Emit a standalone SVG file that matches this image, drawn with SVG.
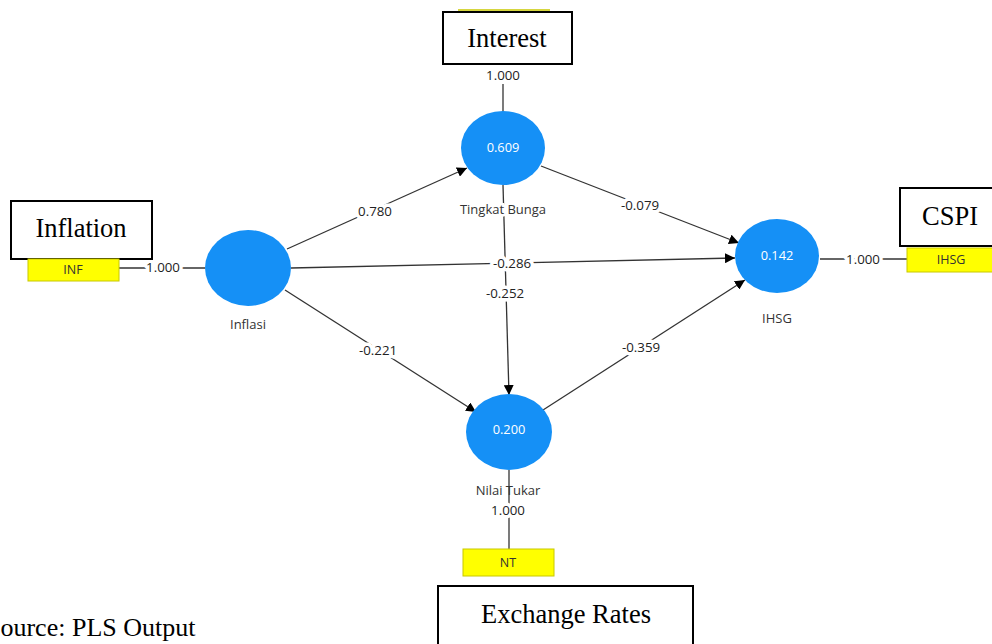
<svg xmlns="http://www.w3.org/2000/svg" width="992" height="644" viewBox="0 0 992 644">
<style>
.box{fill:#fff;stroke:#000;stroke-width:2}
.cap{font-family:"Liberation Serif",serif;font-size:26.5px;fill:#000;text-anchor:middle}
.lv{fill:#1590f6}
.val{font-family:"Open Sans","Noto Sans",sans-serif;font-size:12.8px;fill:#fff;text-anchor:middle}
.lbl{font-family:"Open Sans","Noto Sans",sans-serif;font-size:13px;fill:#333;text-anchor:middle}
.coef{font-family:"Open Sans","Noto Sans",sans-serif;font-size:13.3px;fill:#222;text-anchor:middle;stroke:#fff;stroke-width:7px;paint-order:stroke;stroke-linejoin:round}
.ind{fill:#ffff00;stroke:#c8c800;stroke-width:1}
.indt{font-family:"Open Sans","Noto Sans",sans-serif;font-size:12.5px;fill:#333;text-anchor:middle}
.ln{stroke:#333;stroke-width:1.3;fill:none}
</style>
<defs>
<marker id="ah" viewBox="0 0 10 10" refX="10" refY="5" markerWidth="10" markerHeight="10" markerUnits="userSpaceOnUse" orient="auto">
<path d="M0,0 L10,5 L0,10 z" fill="#000"/>
</marker>
</defs>
<rect width="992" height="644" fill="#fff"/>
<line x1="458" y1="10" x2="550" y2="10" stroke="#c8c800" stroke-width="1.5"/>
<g id="connectors">
<line class="ln" x1="503" y1="84" x2="503" y2="112"/>
<line class="ln" x1="119" y1="268" x2="205" y2="268"/>
<line class="ln" x1="820" y1="259" x2="907" y2="259"/>
<line class="ln" x1="509" y1="470" x2="509" y2="549"/>
<line class="ln" x1="287" y1="249" x2="467" y2="168" marker-end="url(#ah)"/>
<line class="ln" x1="291" y1="268" x2="735" y2="258" marker-end="url(#ah)"/>
<line class="ln" x1="285" y1="290" x2="476" y2="412" marker-end="url(#ah)"/>
<line class="ln" x1="541" y1="166" x2="739" y2="243" marker-end="url(#ah)"/>
<line class="ln" x1="503" y1="185" x2="509" y2="395" marker-end="url(#ah)"/>
<line class="ln" x1="543" y1="410" x2="745" y2="280" marker-end="url(#ah)"/>
<text class="coef" x="503" y="80">1.000</text>
<text class="coef" x="163" y="272">1.000</text>
<text class="coef" x="863" y="264">1.000</text>
<text class="coef" x="375" y="216">0.780</text>
<text class="coef" x="512" y="268">-0.286</text>
<text class="coef" x="378" y="355">-0.221</text>
<text class="coef" x="640" y="210">-0.079</text>
<text class="coef" x="505" y="298">-0.252</text>
<text class="coef" x="641" y="352">-0.359</text>
</g>
<g id="interest">
<rect class="box" x="443" y="12" width="129" height="52"/>
<text class="cap" x="507" y="47">Interest</text>
</g>
<g id="tingkat-bunga">
<ellipse class="lv" cx="503" cy="148" rx="42" ry="37"/>
<text class="val" x="503" y="152">0.609</text>
<text class="lbl" x="503" y="214" style="stroke:#fff;stroke-width:5px;paint-order:stroke">Tingkat Bunga</text>
</g>
<g id="inflation">
<rect class="box" x="11" y="201" width="141" height="58"/>
<text class="cap" x="81" y="237">Inflation</text>
</g>
<g id="inf">
<rect class="ind" x="28" y="259" width="91" height="22"/>
<text class="indt" x="73" y="274">INF</text>
</g>
<g id="inflasi">
<ellipse class="lv" cx="248" cy="268" rx="43" ry="38"/>
<text class="lbl" x="248" y="329">Inflasi</text>
</g>
<g id="ihsg">
<ellipse class="lv" cx="777" cy="256" rx="42" ry="37"/>
<text class="val" x="777" y="260">0.142</text>
<text class="lbl" x="777" y="323">IHSG</text>
</g>
<g id="ihsg-ind">
<rect class="ind" x="907" y="248" width="90" height="24"/>
<text class="indt" x="951" y="264">IHSG</text>
</g>
<g id="cspi">
<rect class="box" x="900" y="188" width="96" height="58"/>
<text class="cap" x="950" y="225">CSPI</text>
</g>
<g id="nilai-tukar">
<ellipse class="lv" cx="509" cy="432" rx="43" ry="38"/>
<text class="val" x="509" y="434">0.200</text>
<text class="lbl" x="508" y="495">Nilai Tukar</text>
<text class="coef" x="508" y="515">1.000</text>
</g>
<g id="nt">
<rect class="ind" x="463" y="549" width="91" height="27"/>
<text class="indt" x="508" y="567">NT</text>
</g>
<g id="exchange-rates">
<rect class="box" x="438" y="586" width="255" height="62"/>
<text class="cap" x="566" y="623">Exchange Rates</text>
</g>
<text x="-14" y="636" style="font-family:'Liberation Serif',serif;font-size:26px;fill:#000">Source: PLS Output</text>
</svg>
